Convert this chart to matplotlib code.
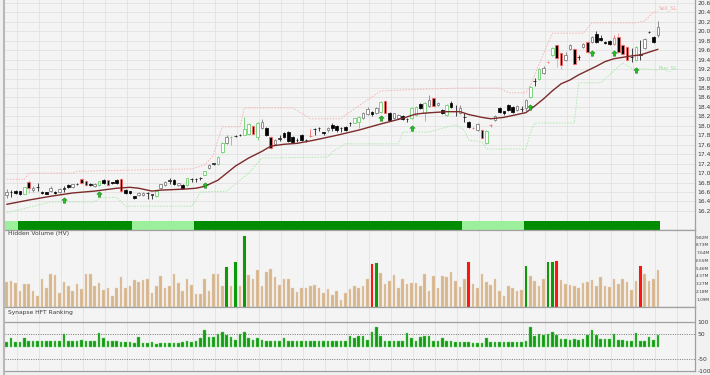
import numpy as np
import matplotlib
matplotlib.use("Agg")
import matplotlib.pyplot as plt
from matplotlib.path import Path
from matplotlib.lines import Line2D

# daily candles (oldest -> newest)
opens = [16.54,16.60,16.62,16.62,16.56,16.81,16.64,16.70,16.60,16.59,
         16.62,16.60,16.60,16.67,16.75,16.70,16.77,16.87,16.83,16.78,
         16.72,16.74,16.85,16.85,16.81,16.85,16.87,16.64,16.62,16.51,
         16.53,16.53,16.57,16.54,16.51,16.68,16.74,16.84,16.85,16.74,
         16.75,16.74,16.87,16.87,16.89,16.96,17.10,17.20,17.19,17.44,
         17.63,17.76,17.78,17.80,17.81,17.82,18.00,17.76,17.95,17.95,
         17.76,17.61,17.73,17.85,17.87,17.76,17.70,17.80,17.70,17.78,
         17.93,17.95,17.87,17.91,18.02,18.00,17.95,17.98,18.05,18.06,
         18.08,18.17,18.25,18.29,18.27,18.29,18.52,18.27,18.16,18.16,
         18.21,18.14,18.16,18.23,18.46,18.27,18.42,18.59,18.44,18.33,
         18.23,18.48,18.31,18.27,18.18,18.08,17.95,17.91,17.91,17.63,
         18.01,18.12,18.38,18.31,18.44,18.40,18.33,18.35,18.38,18.61,
         18.94,18.99,19.12,19.35,19.50,19.71,19.54,19.39,19.63,19.63,
         19.45,19.67,19.77,19.77,19.94,19.86,19.77,19.79,19.73,19.88,
         19.71,19.67,19.45,19.39,19.50,19.65,19.98,19.88,19.92]
highs = [16.66,16.65,16.64,16.63,16.71,16.86,16.72,16.79,16.62,16.61,
         16.73,16.62,16.68,16.73,16.76,16.78,16.80,16.90,16.85,16.79,
         16.80,16.84,16.88,16.86,16.82,16.87,16.89,16.66,16.63,16.52,
         16.60,16.59,16.60,16.56,16.63,16.78,16.84,16.89,16.87,16.80,
         16.76,16.90,16.89,16.89,16.91,17.05,17.19,17.22,17.36,17.65,
         17.80,17.78,17.80,17.82,18.18,18.05,18.02,18.08,18.15,17.97,
         17.78,17.72,17.80,17.86,17.89,17.78,17.74,17.82,17.73,17.93,
         17.95,17.97,17.88,17.97,18.05,18.02,17.98,18.00,18.08,18.17,
         18.20,18.30,18.40,18.31,18.40,18.53,18.55,18.29,18.28,18.25,
         18.23,18.17,18.40,18.42,18.48,18.50,18.65,18.61,18.50,18.35,
         18.46,18.52,18.44,18.44,18.27,18.10,17.97,18.06,17.93,17.91,
         18.04,18.23,18.40,18.32,18.46,18.42,18.44,18.42,18.57,18.84,
         19.01,19.22,19.26,19.37,19.67,19.73,19.56,19.56,19.74,19.65,
         19.50,19.76,19.80,19.90,20.00,19.92,19.79,19.81,19.92,19.96,
         19.73,19.69,19.65,19.69,19.82,19.86,20.01,19.90,20.22]
lows = [16.48,16.49,16.55,16.54,16.55,16.58,16.60,16.63,16.56,16.55,
        16.60,16.55,16.58,16.60,16.68,16.69,16.74,16.76,16.73,16.73,
        16.71,16.73,16.77,16.72,16.77,16.77,16.60,16.56,16.56,16.46,
        16.52,16.51,16.45,16.45,16.50,16.66,16.73,16.77,16.75,16.72,
        16.66,16.73,16.82,16.82,16.85,16.95,17.08,17.17,17.18,17.42,
        17.61,17.59,17.77,17.78,17.80,17.81,17.80,17.70,17.93,17.78,
        17.51,17.59,17.67,17.74,17.66,17.64,17.66,17.68,17.66,17.76,
        17.81,17.90,17.80,17.88,17.90,17.86,17.88,17.89,18.00,18.05,
        17.95,18.15,18.23,18.20,18.25,18.27,18.25,18.10,18.14,18.14,
        18.12,18.08,18.14,18.21,18.36,18.10,18.40,18.40,18.42,18.25,
        18.21,18.38,18.20,18.25,18.08,17.95,17.93,17.89,17.72,17.61,
        17.97,18.10,18.27,18.23,18.31,18.27,18.31,18.29,18.31,18.59,
        18.84,18.97,19.10,19.33,19.48,19.24,19.21,19.37,19.61,19.29,
        19.40,19.65,19.54,19.75,19.75,19.80,19.73,19.71,19.71,19.54,
        19.50,19.37,19.35,19.37,19.39,19.63,19.96,19.75,19.88]
closes = [16.60,16.61,16.57,16.56,16.70,16.68,16.68,16.71,16.57,16.56,
          16.68,16.57,16.66,16.68,16.70,16.77,16.78,16.79,16.75,16.75,
          16.78,16.83,16.79,16.74,16.79,16.79,16.62,16.58,16.58,16.47,
          16.58,16.58,16.58,16.55,16.62,16.77,16.81,16.85,16.77,16.79,
          16.68,16.89,16.88,16.88,16.90,17.04,17.17,17.21,17.34,17.63,
          17.76,17.77,17.79,17.81,17.93,18.04,17.82,18.06,18.08,17.80,
          17.53,17.70,17.74,17.76,17.68,17.66,17.71,17.70,17.71,17.78,
          17.94,17.96,17.84,17.95,17.95,17.91,17.96,17.91,18.06,18.16,
          18.19,18.27,18.35,18.25,18.38,18.50,18.27,18.12,18.27,18.23,
          18.14,18.15,18.38,18.40,18.38,18.48,18.55,18.42,18.48,18.27,
          18.44,18.40,18.32,18.38,18.19,17.97,17.95,18.04,17.74,17.89,
          18.02,18.21,18.29,18.27,18.33,18.29,18.42,18.36,18.55,18.82,
          18.95,19.20,19.22,19.35,19.65,19.44,19.29,19.50,19.71,19.31,
          19.46,19.73,19.56,19.88,19.77,19.82,19.75,19.73,19.86,19.56,
          19.52,19.39,19.46,19.67,19.51,19.84,19.99,19.77,20.09]

# candles flagged by the system
green_sig = [4, 21, 34, 41, 45, 48, 49, 51, 54, 55, 57, 79, 80, 85, 92, 93, 95,
             100, 109, 119, 121, 124, 143]
red_sig = [5, 17, 18, 23, 26, 56, 60, 69, 86, 97, 106, 108, 110, 123, 125, 126,
           129, 132, 138, 139, 140, 141]

# moving average
ma_idx = [0, 5, 10, 15, 20, 25, 28, 30, 33, 35, 40, 43, 45, 48, 50, 52, 55, 58, 60, 63,
          66, 70, 75, 80, 85, 90, 93, 95, 100, 103, 105, 108, 110, 113, 116, 118, 120,
          122, 124, 126, 128, 130, 132, 134, 136, 138, 140, 142, 144, 146, 148]
ma_val = [16.34,16.43,16.51,16.58,16.62,16.68,16.70,16.68,16.62,16.64,
          16.66,16.68,16.72,16.85,17.00,17.15,17.32,17.46,17.57,17.61,
          17.63,17.70,17.80,17.91,18.04,18.16,18.25,18.27,18.30,18.30,
          18.24,18.18,18.15,18.18,18.24,18.28,18.42,18.57,18.74,18.89,
          18.97,19.08,19.17,19.26,19.36,19.42,19.45,19.48,19.50,19.56,19.62]

# stop levels
sell_idx = [0, 4, 5, 15, 16, 42, 45, 47, 48, 49, 53, 54, 65, 67, 69, 76, 77, 82, 85, 96,
            103, 112, 114, 118, 119, 123, 124, 131, 132, 133, 143, 145, 147, 148]
sell_sl = [16.87,16.87,17.00,17.00,17.04,17.09,17.17,17.38,17.70,17.98,
           17.98,18.38,18.38,18.27,18.15,18.15,18.23,18.55,18.74,18.78,
           18.80,18.80,18.70,18.70,18.86,19.75,19.96,19.96,20.07,20.18,
           20.18,20.22,20.41,20.41]
buy_idx = [0, 10, 20, 21, 25, 27, 42, 43, 44, 50, 55, 58, 73, 74, 77, 89, 90, 96, 99, 102,
           104, 105, 108, 109, 118, 119, 120, 129, 130, 135, 139, 140, 142, 148]
buy_sl = [16.16,16.39,16.39,16.47,16.49,16.30,16.30,16.43,16.60,16.62,
          17.00,17.32,17.34,17.45,17.62,17.62,17.87,17.87,17.95,18.02,
          17.91,17.70,17.66,17.51,17.51,17.85,18.06,18.06,18.91,18.91,
          19.25,19.33,19.22,19.18]

# buy arrows
arrow_idx = [13, 21, 45, 85, 92, 119, 133, 138, 143]
arrow_px = [16.43, 16.55, 16.75, 18.16, 17.95, 18.40, 19.54, 19.54, 19.18]

# trend ribbon: (number of candles, strong?)
trend_runs = [(3, 0), (26, 1), (14, 0), (61, 1), (14, 0), (31, 1)]

# hidden volume, millions
volume = [3.5,3.7,3.4,2.3,3.2,3.2,2.2,1.5,4.0,2.7,
          4.7,4.5,1.9,3.5,3.0,2.2,3.2,2.5,4.6,4.6,
          3.0,3.4,2.4,2.6,1.5,2.6,4.2,2.6,3.0,3.8,
          3.5,3.8,3.9,1.9,3.0,4.4,2.6,2.9,4.6,3.4,
          2.2,4.0,3.1,1.8,1.8,4.0,2.3,4.6,4.7,2.9,
          5.6,2.9,6.3,2.9,9.9,4.5,4.0,5.2,3.0,4.9,
          5.4,4.2,3.1,3.9,3.9,2.6,2.1,2.7,2.7,3.0,
          3.1,2.6,1.9,2.5,1.7,2.2,1.0,1.9,2.5,3.0,
          2.6,3.0,3.9,6.1,6.2,4.8,3.2,3.7,4.5,2.6,
          4.0,3.2,3.4,3.4,3.0,4.7,2.3,4.4,2.7,4.4,
          4.2,4.9,3.7,2.8,3.9,6.3,3.2,2.7,4.7,3.5,
          3.1,3.9,2.3,1.5,2.9,2.6,2.2,2.4,5.8,4.4,
          3.6,3.0,3.9,6.3,6.3,6.5,3.8,3.2,3.1,3.0,
          2.6,3.4,3.5,3.8,2.9,4.2,3.0,2.8,3.9,3.2,
          4.0,3.5,2.4,3.7,5.7,4.7,3.7,3.9,5.2]
hv_buy = [50, 52, 54, 84, 118, 123, 124]
hv_sell = [83, 105, 125, 144]
vol_labels = ['1.09M', '2.18M', '3.27M', '4.37M', '5.46M', '6.55M', '7.64M', '8.73M', '9.82M']

hft = [18,34,18,18,34,24,24,24,24,24,
       24,24,24,52,24,24,24,27,24,24,
       24,54,34,24,24,24,20,20,18,16,
       40,14,14,20,11,14,16,16,16,16,
       18,24,20,24,34,68,41,41,51,59,
       48,41,27,51,59,37,27,37,27,24,
       24,24,24,37,24,24,24,24,24,24,
       24,24,24,24,24,24,24,24,44,37,
       44,44,27,59,79,44,24,24,24,24,
       24,55,34,24,41,44,44,24,24,34,
       24,24,20,20,20,18,16,16,16,37,
       18,18,20,20,18,18,18,20,24,79,
       44,51,48,51,59,48,30,30,27,30,
       27,30,48,68,48,30,30,30,52,27,
       27,24,24,55,24,24,41,27,48]

W, H = 710, 375
BG = '#f4f4f4'
GRID = '#e2e2e2'
SPINE = '#a0a0a0'
TXT = '#3a3a3a'


def rect(x0, y0, x1, y1):
    return [x0 / W, 1 - y1 / H, (x1 - x0) / W, (y1 - y0) / H]


fig = plt.figure(figsize=(W / 100, H / 100), dpi=100, facecolor='#f1f1f1')
ax_p = fig.add_axes(rect(5, 0, 695, 229.5))
ax_v = fig.add_axes(rect(5, 229.5, 695, 307))
ax_h = fig.add_axes(rect(5, 307, 695, 371))

n = len(closes)
x = np.arange(n)
xl = (-0.39, 156.43)
vgrid = np.arange(2.3, 157, 5)

for ax in (ax_p, ax_v, ax_h):
    ax.set_facecolor(BG)
    ax.set_xlim(*xl)
    ax.set_xticks(vgrid)
    ax.set_xticklabels([])
    ax.tick_params(axis='x', length=0)
    ax.grid(True, axis='x', color=GRID, lw=0.6)
    ax.set_axisbelow(True)
    ax.yaxis.tick_right()
    ax.tick_params(axis='y', length=0, pad=2, labelsize=4.3, labelcolor=TXT)
    for s in ax.spines.values():
        s.set_color(SPINE)
        s.set_linewidth(0.9)
    ax.spines['left'].set_visible(False)

# ---- price panel ----
ax_p.spines['top'].set_visible(False)
ax_p.set_ylim(15.807, 20.663)
pticks = np.round(np.arange(16.2, 20.61, 0.2), 1)
ax_p.set_yticks(pticks)
ax_p.set_yticklabels(['%.1f' % t for t in pticks])
ax_p.grid(True, axis='y', color=GRID, lw=0.6)

o = np.array(opens); c = np.array(closes)
hi = np.array(highs); lo = np.array(lows)
sig = np.array(['n'] * n)
sig[green_sig] = 'g'
sig[red_sig] = 'r'
faces, edges, wicks = [], [], []
for i in range(n):
    doji = abs(c[i] - o[i]) < 0.015
    if c[i] >= o[i]:
        faces.append('white')
        e = {'n': '#222222' if doji else '#808080', 'g': '#6cd06c', 'r': '#ff6e6e'}[sig[i]]
        edges.append(e)
        wicks.append(e)
    else:
        faces.append('black')
        e = {'n': '#111111', 'g': '#111111', 'r': '#ff6a6a'}[sig[i]]
        edges.append(e)
        wicks.append('#ff9c9c' if sig[i] == 'r' else '#333333')

ax_p.vlines(x, lo, hi, colors=wicks, lw=0.6, zorder=3)
ax_p.bar(x, np.maximum(np.abs(c - o), 0.004), bottom=np.minimum(o, c), width=0.62,
         color=faces, edgecolor=edges, linewidth=0.6, zorder=4)

ax_p.plot(sell_idx, sell_sl, color='#f6b4b4', lw=0.7, ls=(0, (1.5, 1.5)), zorder=2)
ax_p.plot(buy_idx, buy_sl, color='#ade8ad', lw=0.7, ls=(0, (1.5, 1.5)), zorder=2)
ax_p.plot(ma_idx, ma_val, color='#7c2a2a', lw=1.0, zorder=5, solid_capstyle='round')
ax_p.text(sell_idx[-1] + 0.2, 20.49, 'Sell_SL', color='#f4a8a8', fontsize=3.8, va='center')
ax_p.text(buy_idx[-1] + 0.2, 19.22, 'Buy_SL', color='#9ee09e', fontsize=3.8, va='center')

arrow = Path([(-1, 0.1), (0, 1), (1, 0.1), (0.45, 0.1), (0.45, -1), (-0.45, -1), (-0.45, 0.1), (-1, 0.1)],
             [Path.MOVETO] + [Path.LINETO] * 6 + [Path.CLOSEPOLY])
ax_p.scatter(arrow_idx, arrow_px, marker=arrow, s=15, color='#22c022',
             edgecolors='#0b6b0b', linewidths=0.3, zorder=6)

# trend ribbon
start = 0
for length, strong in trend_runs:
    ax_p.broken_barh([(start - 0.5, length)], (15.80, 0.19),
                     facecolors='#008c00' if strong else '#9cf09c', zorder=6)
    start += length

# ---- hidden volume ----
vcol = ['#d6b48c'] * n
for i in hv_buy:
    vcol[i] = '#0a9a0a'
for i in hv_sell:
    vcol[i] = '#ff1414'
ax_v.bar(x, volume, width=0.62, color=vcol, edgecolor='#ead6bd', linewidth=0.3, zorder=3)
for i in hv_buy + hv_sell:
    ax_v.bar(i, volume[i], width=0.62, color=vcol[i], linewidth=0, zorder=4)
ax_v.set_ylim(0, 10.88)
ax_v.set_yticks([1.0915 * k for k in range(1, 10)])
ax_v.set_yticklabels(vol_labels)
ax_v.tick_params(axis='y', labelsize=3.1, pad=0.8)
ax_v.text(0.004, 0.942, 'Hidden Volume (HV)', transform=ax_v.transAxes, fontsize=4.3,
          color=TXT, va='center')

# ---- HFT ranking ----
ax_h.bar(x, hft, width=0.62, color='#139a13', edgecolor='#6ad66a', linewidth=0.3, zorder=3)
ax_h.set_ylim(-101, 163)
ax_h.set_yticks([100, 50, -50, -100])
ax_h.set_yticklabels(['100', '50', '-50', '-100'])
ax_h.axhline(100, color=SPINE, lw=0.9, zorder=2)
for lev in (50, -50):
    ax_h.axhline(lev, color='#666666', lw=0.6, ls=(0, (1.2, 1.6)), zorder=2)
ax_h.text(0.004, 0.92, 'Synapse HFT Ranking', transform=ax_h.transAxes, fontsize=4.3,
          color=TXT, va='center')

# left frame edge
fig.add_artist(Line2D([4.2 / W, 4.2 / W], [0, 1], color='#b8b8b8', lw=1.5))

fig.savefig('out.png', dpi=100, facecolor=fig.get_facecolor())
